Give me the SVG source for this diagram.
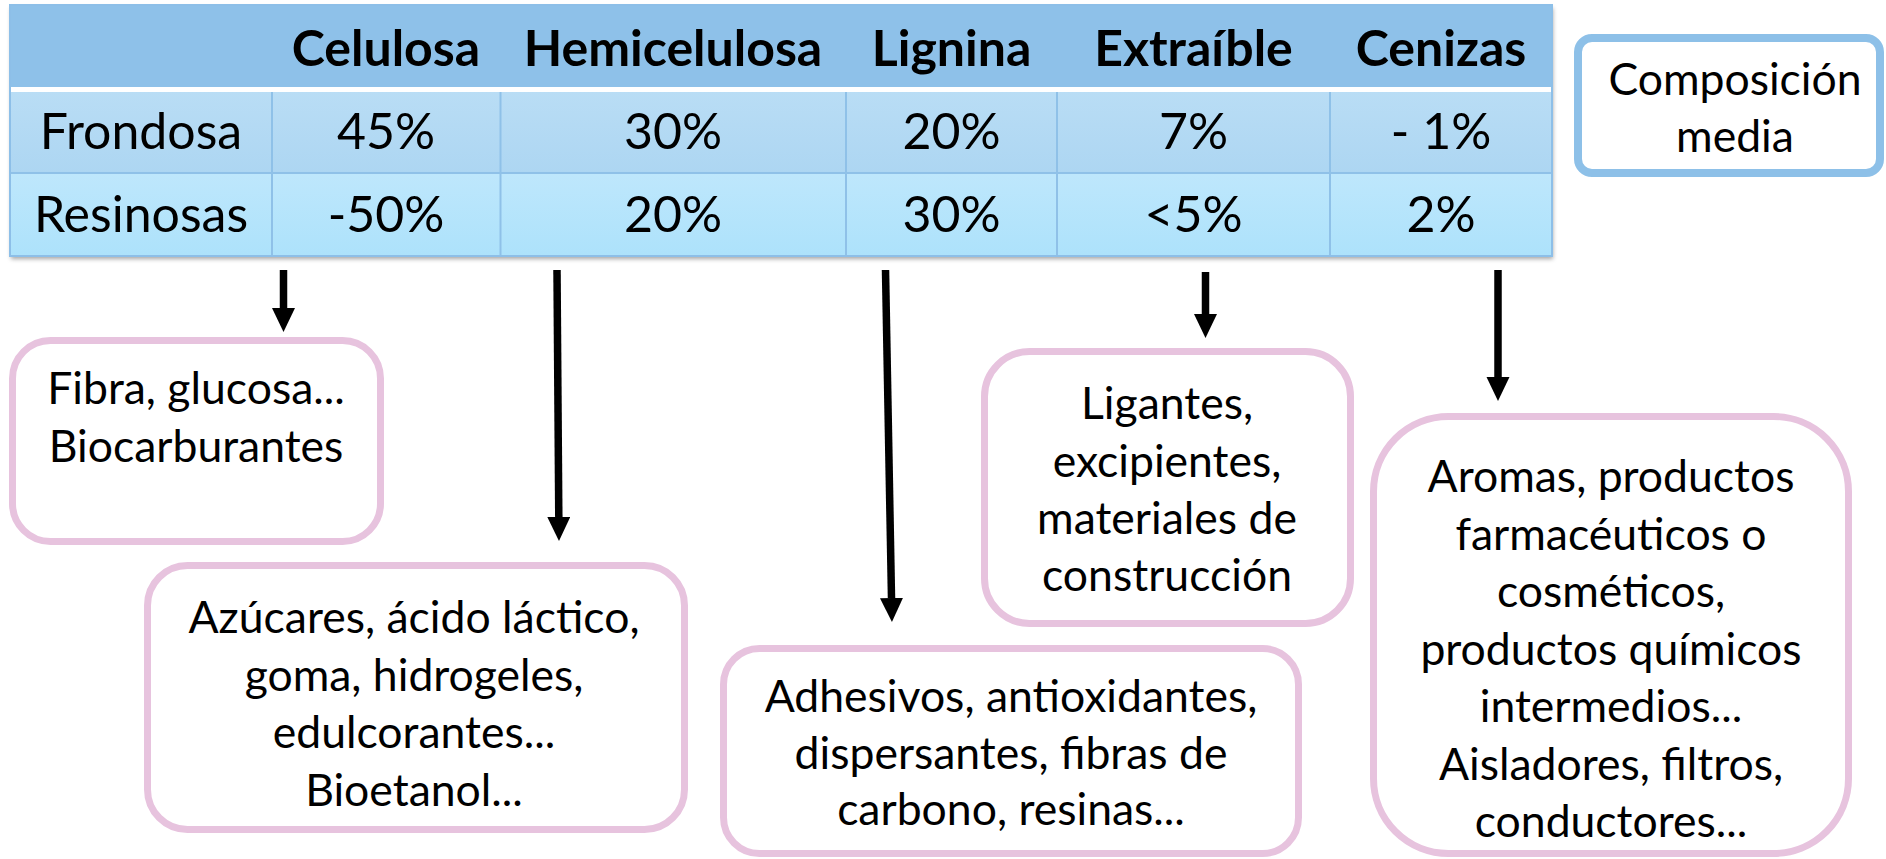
<svg xmlns="http://www.w3.org/2000/svg" width="1886" height="859" viewBox="0 0 1886 859">
<defs>
<style>
text{font-family:"Lato","Liberation Sans",sans-serif;fill:#000;text-anchor:middle}
.hd{font-weight:bold;font-size:50px}
.td{font-size:50px}
.bx{font-size:44.5px}
.pink{fill:#fff;stroke:#E7C3DE;stroke-width:7}
.grid{stroke:#8FC1E8;stroke-width:2}
.arr{stroke:#000;stroke-width:7.5;fill:none}
</style>
<linearGradient id="g1" x1="0" y1="0" x2="0" y2="1"><stop offset="0" stop-color="#B9DDF5"/><stop offset="1" stop-color="#ADD6F2"/></linearGradient>
<linearGradient id="g2" x1="0" y1="0" x2="0" y2="1"><stop offset="0" stop-color="#BEE7FC"/><stop offset="1" stop-color="#ADE2FB"/></linearGradient>
<filter id="sh" x="-2%" y="-5%" width="104%" height="115%"><feDropShadow dx="1" dy="3" stdDeviation="2" flood-color="#000" flood-opacity="0.35"/></filter>
<marker id="ah" markerUnits="userSpaceOnUse" markerWidth="26" markerHeight="24" refX="0" refY="11.5" orient="auto"><path d="M0,0 L24,11.5 L0,23 z" fill="#000"/></marker>
</defs>
<g id="table">
<g filter="url(#sh)">
<rect x="10" y="5" width="1542" height="251" fill="#8EC1E9"/>
</g>
<rect x="10" y="5" width="1542" height="83" fill="#8EC1E9"/>
<rect x="10" y="87" width="1542" height="5" fill="#fff"/>
<rect x="10" y="92" width="1542" height="81" fill="url(#g1)"/>
<rect x="10" y="173" width="1542" height="83" fill="url(#g2)"/>
<line class="grid" x1="10" y1="173" x2="1552" y2="173"/>
<line class="grid" x1="272" y1="92" x2="272" y2="256"/>
<line class="grid" x1="500.5" y1="92" x2="500.5" y2="256"/>
<line class="grid" x1="846" y1="92" x2="846" y2="256"/>
<line class="grid" x1="1057" y1="92" x2="1057" y2="256"/>
<line class="grid" x1="1330" y1="92" x2="1330" y2="256"/>
<rect x="10" y="5" width="1542" height="251" fill="none" stroke="#8DBFE8" stroke-width="2"/>
<text class="hd" x="386" y="66">Celulosa</text>
<text class="hd" x="673" y="66">Hemicelulosa</text>
<text class="hd" x="951.5" y="66">Lignina</text>
<text class="hd" x="1193.5" y="66">Extraíble</text>
<text class="hd" x="1441" y="66">Cenizas</text>
<text class="td" x="141" y="149">Frondosa</text>
<text class="td" x="386" y="149">45%</text>
<text class="td" x="673" y="149">30%</text>
<text class="td" x="951.5" y="149">20%</text>
<text class="td" x="1193.5" y="149">7%</text>
<text class="td" x="1441" y="149">- 1%</text>
<text class="td" x="141" y="232">Resinosas</text>
<text class="td" x="386" y="232">-50%</text>
<text class="td" x="673" y="232">20%</text>
<text class="td" x="951.5" y="232">30%</text>
<text class="td" x="1193.5" y="232">&lt;5%</text>
<text class="td" x="1441" y="232">2%</text>
</g>
<g id="composicion">
<rect x="1578" y="38" width="302" height="135" rx="14" fill="#fff" stroke="#8DC0E8" stroke-width="8"/>
<text class="bx" x="1735" y="95">Composición</text>
<text class="bx" x="1735" y="152">media</text>
</g>
<g id="connectors">
<line class="arr" x1="283.5" y1="270" x2="283.5" y2="308" marker-end="url(#ah)"/>
<line class="arr" x1="557" y1="270" x2="558.8" y2="517" marker-end="url(#ah)"/>
<line class="arr" x1="885.5" y1="270" x2="891.5" y2="598" marker-end="url(#ah)"/>
<line class="arr" x1="1205.5" y1="272" x2="1205.5" y2="314" marker-end="url(#ah)"/>
<line class="arr" x1="1498" y1="270" x2="1498" y2="377" marker-end="url(#ah)"/>
</g>
<g id="celulosa-usos">
<rect class="pink" x="12.5" y="340.5" width="368" height="201" rx="38"/>
<text class="bx" x="196" y="404">Fibra, glucosa...</text>
<text class="bx" x="196" y="462">Biocarburantes</text>
</g>
<g id="hemicelulosa-usos">
<rect class="pink" x="147.5" y="565.5" width="537" height="264" rx="40"/>
<text class="bx" x="414" y="633">Azúcares, ácido láctico,</text>
<text class="bx" x="414" y="690.5">goma, hidrogeles,</text>
<text class="bx" x="414" y="748">edulcorantes...</text>
<text class="bx" x="414" y="805.5">Bioetanol...</text>
</g>
<g id="lignina-usos">
<rect class="pink" x="723.5" y="648.5" width="575" height="205" rx="36"/>
<text class="bx" x="1011" y="712">Adhesivos, antioxidantes,</text>
<text class="bx" x="1011" y="768.5">dispersantes, fibras de</text>
<text class="bx" x="1011" y="825">carbono, resinas...</text>
</g>
<g id="extraible-usos">
<rect class="pink" x="984.5" y="351.5" width="366" height="272" rx="45"/>
<text class="bx" x="1167" y="419">Ligantes,</text>
<text class="bx" x="1167" y="477">excipientes,</text>
<text class="bx" x="1167" y="533.5">materiales de</text>
<text class="bx" x="1167" y="591">construcción</text>
</g>
<g id="cenizas-usos">
<rect class="pink" x="1373.5" y="416.5" width="475" height="437" rx="75"/>
<text class="bx" x="1611" y="492">Aromas, productos</text>
<text class="bx" x="1611" y="549.5">farmacéuticos o</text>
<text class="bx" x="1611" y="607">cosméticos,</text>
<text class="bx" x="1611" y="664.5">productos químicos</text>
<text class="bx" x="1611" y="722">intermedios...</text>
<text class="bx" x="1611" y="779.5">Aisladores, filtros,</text>
<text class="bx" x="1611" y="837">conductores...</text>
</g>
</svg>
